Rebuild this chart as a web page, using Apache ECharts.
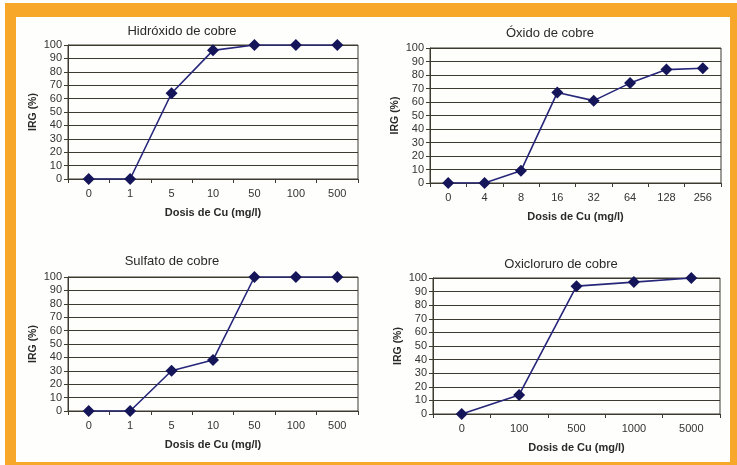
<!DOCTYPE html>
<html>
<head>
<meta charset="utf-8">
<script src="https://cdn.jsdelivr.net/npm/echarts@6/dist/echarts.min.js"></script>
<style>
  html, body { margin: 0; padding: 0; background: #fff; }
  #chart { width: 737px; height: 465px; }
</style>
</head>
<body>
<div id="chart"></div>
<script>
// Dose categories (mg/l) for each copper compound
const dosesHidroxido = ['0', '1', '5', '10', '50', '100', '500'];
const dosesOxido = ['0', '4', '8', '16', '32', '64', '128', '256'];
const dosesSulfato = ['0', '1', '5', '10', '50', '100', '500'];
const dosesOxicloruro = ['0', '100', '500', '1000', '5000'];

// IRG (%) values
const irgHidroxido = [0, 0, 64, 96, 100, 100, 100];
const irgOxido = [0, 0, 9, 67, 61, 74, 84, 85];
const irgSulfato = [0, 0, 30, 38, 100, 100, 100];
const irgOxicloruro = [0, 14, 94, 97, 100];

const titles = ['Hidróxido de cobre', 'Óxido de cobre', 'Sulfato de cobre', 'Oxicloruro de cobre'];
const xName = 'Dosis de Cu (mg/l)';
const yName = 'IRG (%)';

const panels = [
  { cats: dosesHidroxido, vals: irgHidroxido, grid: { left: 68, top: 45, width: 290, height: 134 }, titleX: 182, titleY: 31 },
  { cats: dosesOxido, vals: irgOxido, grid: { left: 430, top: 48, width: 291, height: 135 }, titleX: 550, titleY: 33 },
  { cats: dosesSulfato, vals: irgSulfato, grid: { left: 68, top: 277, width: 290, height: 134 }, titleX: 172, titleY: 261 },
  { cats: dosesOxicloruro, vals: irgOxicloruro, grid: { left: 433, top: 278, width: 287, height: 136 }, titleX: 561, titleY: 264 }
];

const FONT = '"Liberation Sans", Arial, sans-serif';
const lineDark = '#3d3a30';
const navy = '#26267a';

const option = {
  animation: false,
  backgroundColor: '#fff',
  graphic: [
    { type: 'rect', shape: { x: 5, y: 3, width: 732, height: 462 }, style: { fill: '#f7a82b' }, z: -10 },
    { type: 'rect', shape: { x: 16, y: 17, width: 714, height: 445 }, style: { fill: '#fefefc' }, z: -9 }
  ].concat(panels.map((p, i) => ({
    type: 'text',
    x: p.titleX, y: p.titleY,
    style: {
      text: titles[i], fill: '#2a2a2a', font: '13px ' + FONT,
      textAlign: 'center', textVerticalAlign: 'middle'
    },
    z: 10
  }))),
  grid: panels.map(p => Object.assign({
    show: true, borderColor: lineDark, borderWidth: 1, backgroundColor: 'transparent'
  }, p.grid)),
  xAxis: panels.map((p, i) => ({
    type: 'category', gridIndex: i, data: p.cats, boundaryGap: true,
    name: xName, nameLocation: 'middle', nameGap: 28,
    nameTextStyle: { fontFamily: FONT, fontSize: 11, fontWeight: 'bold', color: '#2a2a2a' },
    axisLine: { lineStyle: { color: lineDark, width: 1 } },
    axisTick: { show: true, length: 4, alignWithLabel: false, lineStyle: { color: lineDark } },
    axisLabel: { fontFamily: FONT, fontSize: 11, color: '#333', margin: 9 },
    splitLine: { show: false }
  })),
  yAxis: panels.map((p, i) => ({
    type: 'value', gridIndex: i, min: 0, max: 100, interval: 10,
    name: yName, nameLocation: 'middle', nameGap: 29, nameRotate: 90,
    nameTextStyle: { fontFamily: FONT, fontSize: 10.5, fontWeight: 'bold', color: '#2a2a2a' },
    axisLine: { show: true, lineStyle: { color: lineDark, width: 1 } },
    axisTick: { show: true, length: 4, lineStyle: { color: lineDark } },
    axisLabel: { fontFamily: FONT, fontSize: 11, color: '#333', margin: 6 },
    splitLine: { show: true, lineStyle: { color: lineDark, width: 1 } }
  })),
  series: panels.map((p, i) => ({
    type: 'line', xAxisIndex: i, yAxisIndex: i, data: p.vals,
    symbol: 'diamond', symbolSize: 12,
    lineStyle: { color: navy, width: 1.6 },
    itemStyle: { color: '#15155a' },
    z: 5
  }))
};

const chart = echarts.init(document.getElementById('chart'), null, { renderer: 'canvas' });
chart.setOption(option);
</script>
</body>
</html>
